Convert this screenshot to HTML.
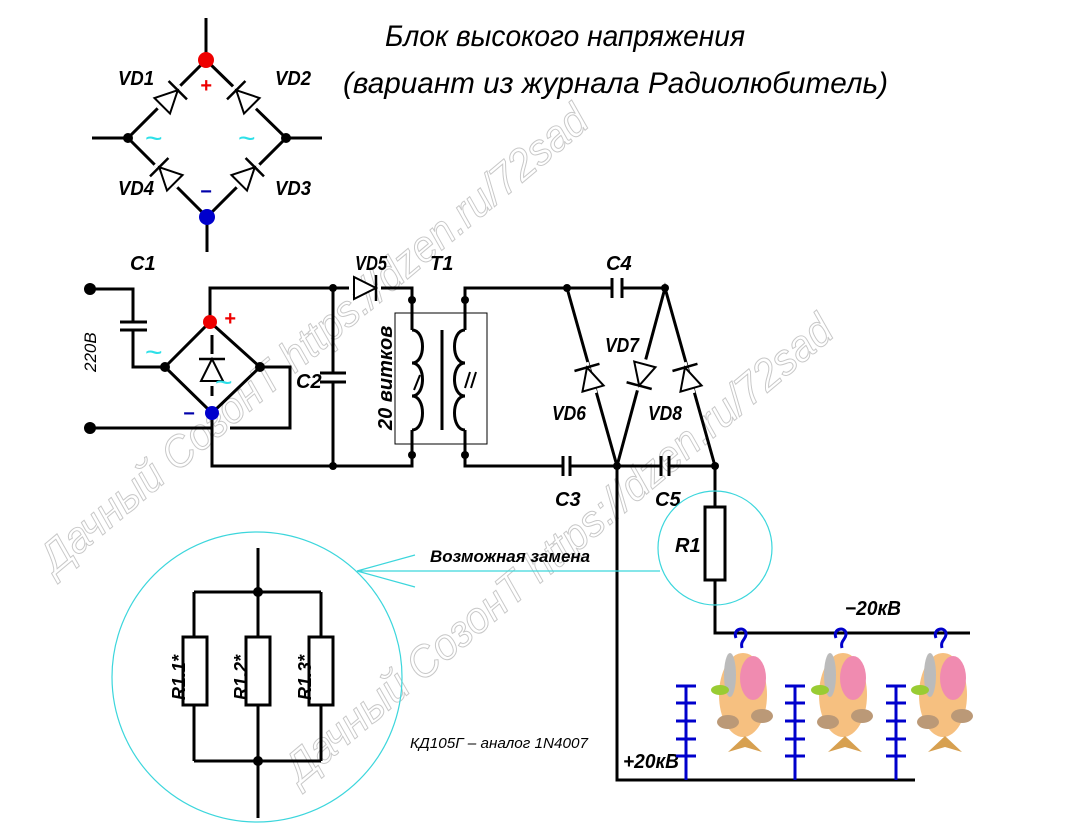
<!DOCTYPE html>
<html><head><meta charset="utf-8"><style>
html,body{margin:0;padding:0;background:#fff;}
svg{display:block;}
.t{font-family:"Liberation Sans",sans-serif;font-style:italic;font-weight:bold;fill:#000;}
.n{font-family:"Liberation Sans",sans-serif;font-style:italic;fill:#000;}
</style></head><body>
<svg width="1091" height="839" viewBox="0 0 1091 839" xmlns="http://www.w3.org/2000/svg">
<defs>
<g id="d"><line x1="-16" y1="0" x2="16" y2="0" stroke="#fff" stroke-width="6"/><polygon points="-11,-11 -11,11 11,0" fill="#fff" stroke="#000" stroke-width="2"/><line x1="11" y1="-13" x2="11" y2="13" stroke="#000" stroke-width="2.5"/></g>
</defs>
<!-- watermarks -->
<g font-family="Liberation Sans,sans-serif" font-size="44" stroke="#c8c8c8" stroke-width="1" fill="#fff" style="font-style:italic">
<text x="0" y="0" transform="translate(55,575) rotate(-40)" textLength="700" lengthAdjust="spacingAndGlyphs">Дачный СозонТ https://dzen.ru/72sad</text>
<text x="0" y="0" transform="translate(300,785) rotate(-40)" textLength="700" lengthAdjust="spacingAndGlyphs">Дачный СозонТ https://dzen.ru/72sad</text>
</g>
<!-- title -->
<text class="n" x="385" y="46" font-size="30" textLength="360" lengthAdjust="spacingAndGlyphs">Блок высокого напряжения</text>
<text class="n" x="343" y="93" font-size="30" textLength="545" lengthAdjust="spacingAndGlyphs">(вариант из журнала  Радиолюбитель)</text>

<g stroke="#000" stroke-width="3" fill="none">
<path d="M206 18V60L128 138L207 217L286 138L206 60M207 217V252M92 138H128M286 138H322"/>
<path d="M90 289H133V322M133 330V367H165"/>
<path d="M120 322H147M120 330H147" stroke-width="3"/>
<path d="M90 428H213M230 428H290V367H260"/>
<path d="M210 322V288H350M380 288H412V330M212 413V466H412V430"/>
<path d="M165 367L210 322L260 367L212 413Z"/>
<path d="M212 335V396"/>
<path d="M333 288V373M333 382V466M320 373H346M320 382H346"/>
<path d="M412 330c14 0 14 33 0 33c14 0 14 33 0 33c14 0 14 34 0 34" />
<path d="M465 330c-14 0 -14 33 0 33c-14 0 -14 33 0 33c-14 0 -14 34 0 34" />
<path d="M465 330V288H612M622 288H665M465 430V466H563M570 466H661M669 466H715"/>
<path d="M612 278V298M622 278V298M563 456V476M570 456V476M661 456V476M669 456V476"/>
<path d="M567 288L617 466L665 288L715 466"/>
<path d="M617 466V780H915"/>
<path d="M715 466V507M715 580V633H970"/>
<rect x="705" y="507" width="20" height="73" fill="#fff"/>
<path d="M258 548V818M194 592H321M194 761H321M194 592V637M194 705V761M321 592V637M321 705V761"/>
<rect x="183" y="637" width="24" height="68" fill="#fff"/>
<rect x="246" y="637" width="24" height="68" fill="#fff"/>
<rect x="309" y="637" width="24" height="68" fill="#fff"/>
</g>
<line x1="442" y1="330" x2="442" y2="430" stroke="#000" stroke-width="3"/>
<rect x="395" y="313" width="92" height="131" fill="none" stroke="#000" stroke-width="1"/>
<line x1="420" y1="375" x2="414" y2="390" stroke="#000" stroke-width="2"/>
<path d="M470 372l-5 16M476 372l-5 16" stroke="#000" stroke-width="2"/>
<use href="#d" transform="translate(170,98) rotate(-45)"/>
<use href="#d" transform="translate(244,98) rotate(-135)"/>
<use href="#d" transform="translate(167,175) rotate(-135)"/>
<use href="#d" transform="translate(247,175) rotate(-45)"/>
<use href="#d" transform="translate(365,288)"/>
<use href="#d" transform="translate(212,370) rotate(-90)"/>
<use href="#d" transform="translate(590,378) rotate(-106)"/>
<use href="#d" transform="translate(642,375) rotate(105)"/>
<use href="#d" transform="translate(688,378) rotate(-106)"/>
<g fill="#000">
<circle cx="128" cy="138" r="5"/><circle cx="286" cy="138" r="5"/>
<circle cx="90" cy="289" r="6"/><circle cx="90" cy="428" r="6"/>
<circle cx="165" cy="367" r="5"/><circle cx="260" cy="367" r="5"/>
<circle cx="333" cy="288" r="4"/><circle cx="333" cy="466" r="4"/>
<circle cx="412" cy="300" r="4"/><circle cx="465" cy="300" r="4"/>
<circle cx="412" cy="455" r="4"/><circle cx="465" cy="455" r="4"/>
<circle cx="567" cy="288" r="4"/><circle cx="665" cy="288" r="4"/>
<circle cx="617" cy="466" r="4"/><circle cx="715" cy="466" r="4"/>
<circle cx="258" cy="592" r="5"/><circle cx="258" cy="761" r="5"/>
</g>
<circle cx="206" cy="60" r="8" fill="#e00"/>
<circle cx="207" cy="217" r="8" fill="#00c"/>
<circle cx="210" cy="322" r="7" fill="#e00"/>
<circle cx="212" cy="413" r="7" fill="#00c"/>
<g class="t" font-size="20">
<text x="200" y="92" style="fill:#e00">+</text>
<text x="200" y="198" style="fill:#00a">−</text>
<text x="224" y="325" style="fill:#e00">+</text>
<text x="183" y="420" style="fill:#00a">−</text>
</g>
<g font-family="Liberation Sans,sans-serif" font-size="30" fill="#2ee0e8">
<text x="145" y="148">~</text><text x="238" y="148">~</text><text x="145" y="362">~</text><text x="215" y="392">~</text>
</g>
<g class="t" font-size="20">
<text x="118" y="85" textLength="36" lengthAdjust="spacingAndGlyphs">VD1</text>
<text x="275" y="85" textLength="36" lengthAdjust="spacingAndGlyphs">VD2</text>
<text x="118" y="195" textLength="36" lengthAdjust="spacingAndGlyphs">VD4</text>
<text x="275" y="195" textLength="36" lengthAdjust="spacingAndGlyphs">VD3</text>
<text x="130" y="270">C1</text>
<text x="355" y="270" textLength="32" lengthAdjust="spacingAndGlyphs">VD5</text>
<text x="430" y="270">T1</text>
<text x="296" y="388">C2</text>
<text x="606" y="270">C4</text>
<text x="605" y="352" textLength="34" lengthAdjust="spacingAndGlyphs">VD7</text>
<text x="552" y="420" textLength="34" lengthAdjust="spacingAndGlyphs">VD6</text>
<text x="648" y="420" textLength="34" lengthAdjust="spacingAndGlyphs">VD8</text>
<text x="555" y="506">C3</text>
<text x="655" y="506">C5</text>
<text x="675" y="552">R1</text>
<text x="845" y="615" textLength="56" lengthAdjust="spacingAndGlyphs">−20кВ</text>
<text x="623" y="768" textLength="56" lengthAdjust="spacingAndGlyphs">+20кВ</text>
<text x="430" y="562" font-size="17" textLength="160" lengthAdjust="spacingAndGlyphs">Возможная замена</text>
<text transform="translate(392,430) rotate(-90)">20 витков</text>
<text transform="translate(185,700) rotate(-90)" font-size="18">R1.1*</text>
<text transform="translate(247,700) rotate(-90)" font-size="18">R1.2*</text>
<text transform="translate(311,700) rotate(-90)" font-size="18">R1.3*</text>
</g>
<text class="n" transform="translate(96,372) rotate(-90)" font-size="17">220В</text>
<text class="n" x="410" y="748" font-size="15" textLength="178" lengthAdjust="spacingAndGlyphs">КД105Г  – аналог 1N4007</text>
<g stroke="#3cd6dc" stroke-width="1.2" fill="none">
<circle cx="715" cy="548" r="57"/>
<circle cx="257" cy="677" r="145"/>
<path d="M357 571H660M357 571L415 555M357 571L415 587"/>
</g>
<g stroke="#00c" stroke-width="3">
<path d="M686 685V780M795 685V780M896 685V780"/>
<path d="M676 686H696M676 703H696M676 721H696M676 739H696M676 756H696"/>
<path d="M785 686H805M785 703H805M785 721H805M785 739H805M785 756H805"/>
<path d="M886 686H906M886 703H906M886 721H906M886 739H906M886 756H906"/>
</g>
<g id="f">
<path d="M736 638c-4-10 10-12 10-4c0 6-6 6-4 14" stroke="#00c" stroke-width="3" fill="none"/>
<ellipse cx="743" cy="695" rx="24" ry="42" fill="#f6c080"/>
<ellipse cx="753" cy="678" rx="13" ry="22" fill="#f08bb0"/>
<ellipse cx="730" cy="675" rx="6" ry="22" fill="#bbb"/>
<path d="M728 752l17-16l17 16l-17-5z" fill="#d7a050"/>
<ellipse cx="720" cy="690" rx="9" ry="5" fill="#9c3"/>
<ellipse cx="728" cy="722" rx="11" ry="7" fill="#b97"/>
<ellipse cx="762" cy="716" rx="11" ry="7" fill="#b97"/>
</g>
<use href="#f" transform="translate(100,0)"/>
<use href="#f" transform="translate(200,0)"/>
</svg>
</body></html>
